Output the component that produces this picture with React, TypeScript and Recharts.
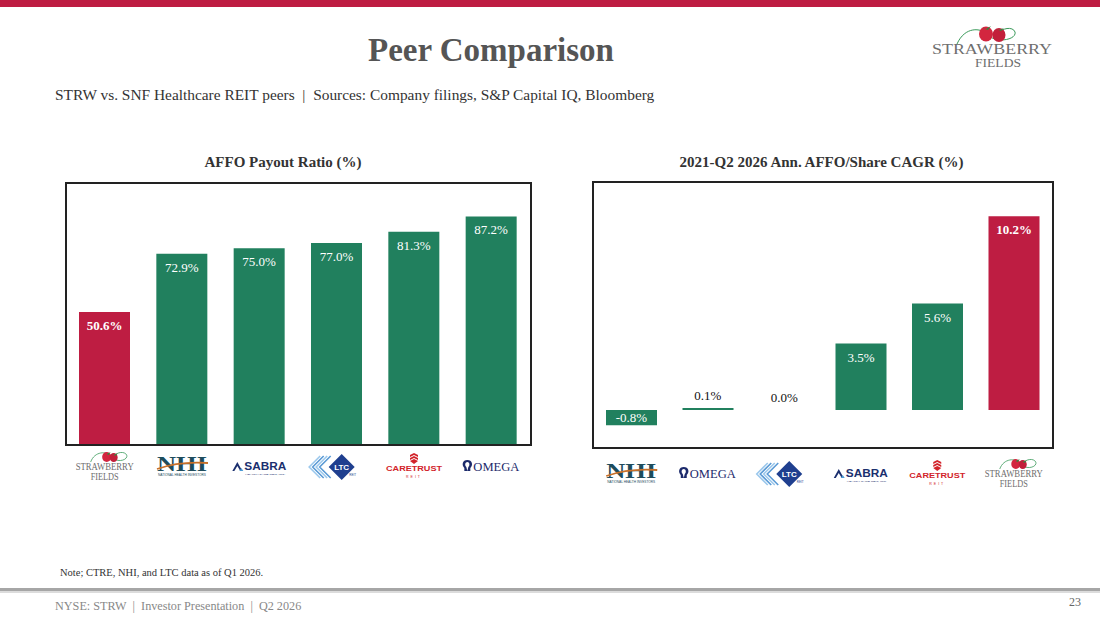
import React from 'react';
import { BarChart, ComposedChart, Bar, Line, XAxis, YAxis, Cell, LabelList } from 'recharts';

// ---- data ----
const payoutCompanies = ['STRW', 'NHI', 'SBRA', 'LTC', 'CTRE', 'OHI'];
const payoutValues = [50.6, 72.9, 75.0, 77.0, 81.3, 87.2];
const cagrCompanies = ['NHI', 'OHI', 'LTC', 'SBRA', 'CTRE', 'STRW'];
const cagrValues = [-0.8, 0.1, 0.0, 3.5, 5.6, 10.2];
const payoutDomain = [0, 100];
const cagrDomain = [-2, 12];
const highlight = 'STRW';

const payoutData = payoutCompanies.map((c, i) => ({ name: c, value: payoutValues[i] }));
const cagrData = cagrCompanies.map((c, i) => ({ name: c, value: cagrValues[i] }));

const GREEN = '#21805E';
const RED = '#BE1D42';
const SERIF = "'Liberation Serif', 'Times New Roman', serif";
const SANS = "'Liberation Sans', Arial, sans-serif";

// ---- logos drawn as tick labels ----
const Logo = ({ name }: { name: string }) => {
  if (name === 'STRW') {
    return (
      <g>
        <path d="M-14,-5 C-10,-16 2,-16 6,-11 C12,-3 24,-7 22,-12 C20,-16 12,-15 10,-11" fill="none" stroke="#3a9a5a" strokeWidth={0.8} />
        <ellipse cx={2} cy={-10} rx={4.5} ry={5} fill="#d3263f" />
        <ellipse cx={9} cy={-9.5} rx={4} ry={4.5} fill="#c21f3a" />
        <path d="M-2,-15 L2,-13 L6,-15 L4,-12 Z" fill="#2f8a3f" />
        <path d="M6,-14 L9,-12 L13,-14 L11,-11 Z" fill="#2f8a3f" />
        <text x={0} y={3} textAnchor="middle" fontFamily={SERIF} fontSize={9.5} fill="#6e6e6e" textLength={58} lengthAdjust="spacingAndGlyphs">STRAWBERRY</text>
        <text x={0} y={12.5} textAnchor="middle" fontFamily={SERIF} fontSize={9.5} fill="#6e6e6e" textLength={28} lengthAdjust="spacingAndGlyphs">FIELDS</text>
      </g>
    );
  }
  if (name === 'NHI') {
    return (
      <g>
        <text x={0} y={4} textAnchor="middle" fontFamily={SERIF} fontWeight="bold" fontSize={20} fill="#1d4c5c" textLength={50} lengthAdjust="spacingAndGlyphs">NHI</text>
        <path d="M-25,2 Q-2,-6 26,-4" fill="none" stroke="#c8702a" strokeWidth={1.8} />
        <text x={0} y={9} textAnchor="middle" fontFamily={SANS} fontSize={3} fill="#1d4c5c" textLength={48} lengthAdjust="spacingAndGlyphs">NATIONAL HEALTH INVESTORS</text>
      </g>
    );
  }
  if (name === 'SBRA') {
    return (
      <g>
        <path d="M-27,4 L-22,-5 L-17,4 L-19,4 L-22,-1 L-25,4 Z" fill="#1b2f6e" />
        <path d="M-20,4 L-16,4 L-18,1 Z" fill="#4a9ad4" />
        <text x={6} y={3} textAnchor="middle" fontFamily={SANS} fontWeight="bold" fontSize={10} fill="#1b2f6e" textLength={42} lengthAdjust="spacingAndGlyphs">SABRA</text>
        <text x={6} y={8} textAnchor="middle" fontFamily={SANS} fontSize={2.5} fill="#1b2f6e" textLength={40} lengthAdjust="spacingAndGlyphs">HEALTH CARE REIT, INC.</text>
      </g>
    );
  }
  if (name === 'LTC') {
    return (
      <g>
        {[0, 1, 2, 3].map((i) => (
          <polyline key={i} points={`${-6 - i * 3.5},-11 ${-17 - i * 3.5},0 ${-6 - i * 3.5},11`} fill="none" stroke={i % 2 ? '#9cc8ec' : '#5b9bd5'} strokeWidth={1.6} />
        ))}
        <polygon points="5,-13 18,0 5,13 -8,0" fill="#1f3f8f" />
        <text x={5} y={3} textAnchor="middle" fontFamily={SANS} fontWeight="bold" fontSize={8} fill="#ffffff">LTC</text>
        <text x={16} y={9} textAnchor="middle" fontFamily={SANS} fontSize={3} fill="#1f3f8f">REIT</text>
      </g>
    );
  }
  if (name === 'CTRE') {
    return (
      <g>
        <path d="M-4,-12 L0,-14 L4,-12 L4,-10 L0,-12 L-4,-10 Z" fill="#d2232a" />
        <path d="M-4,-9 L0,-11 L4,-9 L4,-7 L0,-9 L-4,-7 Z" fill="#d2232a" />
        <path d="M-4,-6 L0,-8 L4,-6 L0,-3 Z" fill="#d2232a" />
        <text x={0} y={4} textAnchor="middle" fontFamily={SANS} fontWeight="bold" fontSize={8} fill="#d2232a" textLength={56} lengthAdjust="spacingAndGlyphs">CARETRUST</text>
        <text x={0} y={11} textAnchor="middle" fontFamily={SANS} fontSize={3.5} fill="#d2232a" letterSpacing={2}>REIT</text>
      </g>
    );
  }
  // OHI
  return (
    <g>
      <path d="M-24,4 L-27,4 L-27,1 C-30,-2 -29,-7 -24,-7 C-19,-7 -18,-2 -21,1 L-21,4 L-24,4 L-23,0 C-21,-2 -22,-5 -24,-5 C-26,-5 -27,-2 -25,0 Z" fill="#1c2a6b" />
      <text x={5} y={4} textAnchor="middle" fontFamily={SERIF} fontSize={13} fill="#1c2a6b" textLength={46} lengthAdjust="spacingAndGlyphs">OMEGA</text>
    </g>
  );
};

const makeTick = (dy: number) => (props: any) => {
  const { x, y, payload } = props;
  return (
    <g transform={`translate(${x},${y + dy})`}>
      <Logo name={payload.value} />
    </g>
  );
};

// ---- labels (LabelList is keyed by company name; value looked up from the arrays) ----
const PayoutLabel = (props: any) => {
  const { x, y, width, value } = props;
  const name = String(value);
  const v = payoutValues[payoutCompanies.indexOf(name)];
  const bold = name === highlight;
  return (
    <text x={x + width / 2} y={y + 18} textAnchor="middle" fontFamily={SERIF} fontSize={13} fontWeight={bold ? 'bold' : 'normal'} fill="#ffffff">
      {`${v.toFixed(1)}%`}
    </text>
  );
};

// labels for bars large enough to hold text (inside) or negative bars
const CagrBarLabel = (props: any) => {
  const { x, y, width, height, value } = props;
  const name = String(value);
  const v = cagrValues[cagrCompanies.indexOf(name)];
  if (v >= 0 && v < 1) return null;
  const top = Math.min(y, y + height);
  const bottom = Math.max(y, y + height);
  const bold = name === highlight;
  const ty = v < 0 ? (top + bottom) / 2 + 4.5 : top + 18;
  return (
    <text x={x + width / 2} y={ty} textAnchor="middle" fontFamily={SERIF} fontSize={13} fontWeight={bold ? 'bold' : 'normal'} fill="#ffffff">
      {`${v.toFixed(1)}%`}
    </text>
  );
};

// labels for near-zero values, placed above the value point
const CagrSmallLabel = (props: any) => {
  const { x, y, value } = props;
  const name = String(value);
  const v = cagrValues[cagrCompanies.indexOf(name)];
  if (!(v >= 0 && v < 1)) return null;
  return (
    <text x={x} y={y - 8} textAnchor="middle" fontFamily={SERIF} fontSize={13} fill="#111111">
      {`${v.toFixed(1)}%`}
    </text>
  );
};

const abs = (o: React.CSSProperties): React.CSSProperties => ({ position: 'absolute', ...o });

export default function App() {
  return (
    <div style={{ position: 'absolute', left: 0, top: 0, width: 1100, height: 619, background: '#fff', overflow: 'hidden', fontFamily: SERIF }}>
      {/* top band */}
      <div style={abs({ left: 0, top: 0, width: 1100, height: 7, background: RED })} />

      {/* title */}
      <div style={abs({ left: 0, top: 29, width: 982, textAlign: 'center', fontSize: 33, fontWeight: 'bold', color: '#555', lineHeight: '42px' })}>Peer Comparison</div>

      {/* corner logo */}
      <svg style={abs({ left: 925, top: 22 })} width={140} height={50}>
        <path d="M32,22 C40,4 56,6 62,12 C70,22 92,18 90,10 C88,4 76,6 74,12" fill="none" stroke="#3a9a5a" strokeWidth={1} />
        <ellipse cx={61} cy={12} rx={7} ry={7.5} fill="#d3263f" />
        <ellipse cx={74} cy={13} rx={6.5} ry={7} fill="#c21f3a" />
        <path d="M55,5 L61,7 L66,4 L63,8 Z" fill="#2f8a3f" />
        <path d="M69,6 L74,8 L79,6 L76,9 Z" fill="#2f8a3f" />
        <text x={67} y={32} textAnchor="middle" fontFamily={SERIF} fontSize={14} fill="#6e6e6e" textLength={120} lengthAdjust="spacingAndGlyphs">STRAWBERRY</text>
        <text x={73} y={45} textAnchor="middle" fontFamily={SERIF} fontSize={13} fill="#6e6e6e" textLength={46} lengthAdjust="spacingAndGlyphs">FIELDS</text>
      </svg>

      {/* subtitle */}
      <div style={abs({ left: 55, top: 86, fontSize: 15.4, color: '#333', whiteSpace: 'nowrap', lineHeight: '18px' })}>
        STRW vs. SNF Healthcare REIT peers&nbsp;&nbsp;|&nbsp;&nbsp;Sources: Company filings, S&amp;P Capital IQ, Bloomberg
      </div>

      {/* chart titles */}
      <div style={abs({ left: 51, top: 153, width: 464, textAlign: 'center', fontSize: 15, fontWeight: 'bold', color: '#333', lineHeight: '18px' })}>AFFO Payout Ratio (%)</div>
      <div style={abs({ left: 592, top: 153, width: 459, textAlign: 'center', fontSize: 15, fontWeight: 'bold', color: '#333', lineHeight: '18px' })}>2021-Q2 2026 Ann. AFFO/Share CAGR (%)</div>

      {/* left chart */}
      <div style={abs({ left: 0, top: 150 })}>
        <BarChart width={560} height={350} data={payoutData} margin={{ top: 33, right: 30, left: 66, bottom: 11 }}>
          <XAxis dataKey="name" height={45} axisLine={false} tickLine={false} interval={0} tick={makeTick(15)} />
          <YAxis hide width={0} domain={payoutDomain} />
          <Bar dataKey="value" barSize={51} isAnimationActive={false}>
            {payoutData.map((d) => (
              <Cell key={d.name} fill={d.name === highlight ? RED : GREEN} />
            ))}
            <LabelList dataKey="name" content={PayoutLabel} />
          </Bar>
        </BarChart>
      </div>
      <div style={abs({ left: 65, top: 182, width: 467, height: 264, border: '2px solid #222', boxSizing: 'border-box', pointerEvents: 'none' })} />

      {/* right chart */}
      <div style={abs({ left: 560, top: 150 })}>
        <ComposedChart width={540} height={350} data={cagrData} margin={{ top: 32, right: 48, left: 33, bottom: 7 }}>
          <XAxis dataKey="name" height={45} axisLine={false} tickLine={false} interval={0} tick={makeTick(18)} />
          <YAxis hide width={0} domain={cagrDomain} />
          <Bar dataKey="value" barSize={51} isAnimationActive={false}>
            {cagrData.map((d) => (
              <Cell key={d.name} fill={d.name === highlight ? RED : GREEN} />
            ))}
            <LabelList dataKey="name" content={CagrBarLabel} />
          </Bar>
          <Line dataKey="value" stroke="none" dot={false} activeDot={false} legendType="none" isAnimationActive={false}>
            <LabelList dataKey="name" content={CagrSmallLabel} />
          </Line>
        </ComposedChart>
      </div>
      <div style={abs({ left: 592, top: 181, width: 462, height: 268, border: '2px solid #222', boxSizing: 'border-box', pointerEvents: 'none' })} />

      {/* note */}
      <div style={abs({ left: 60, top: 567, fontSize: 10.5, color: '#333', whiteSpace: 'nowrap', lineHeight: '12px' })}>Note; CTRE, NHI, and LTC data as of Q1 2026.</div>

      {/* footer rule */}
      <div style={abs({ left: 0, top: 588, width: 1100, height: 3, background: '#a6a6a6' })} />
      <div style={abs({ left: 0, top: 591, width: 1100, height: 2, background: '#dcdcdc' })} />

      {/* footer */}
      <div style={abs({ left: 55, top: 599, fontSize: 12.2, color: '#888', whiteSpace: 'nowrap', lineHeight: '14px' })}>
        NYSE: STRW&nbsp;&nbsp;|&nbsp;&nbsp;Investor Presentation&nbsp;&nbsp;|&nbsp;&nbsp;Q2 2026
      </div>
      <div style={abs({ left: 1069, top: 595, fontSize: 12, color: '#666', lineHeight: '14px' })}>23</div>
    </div>
  );
}
